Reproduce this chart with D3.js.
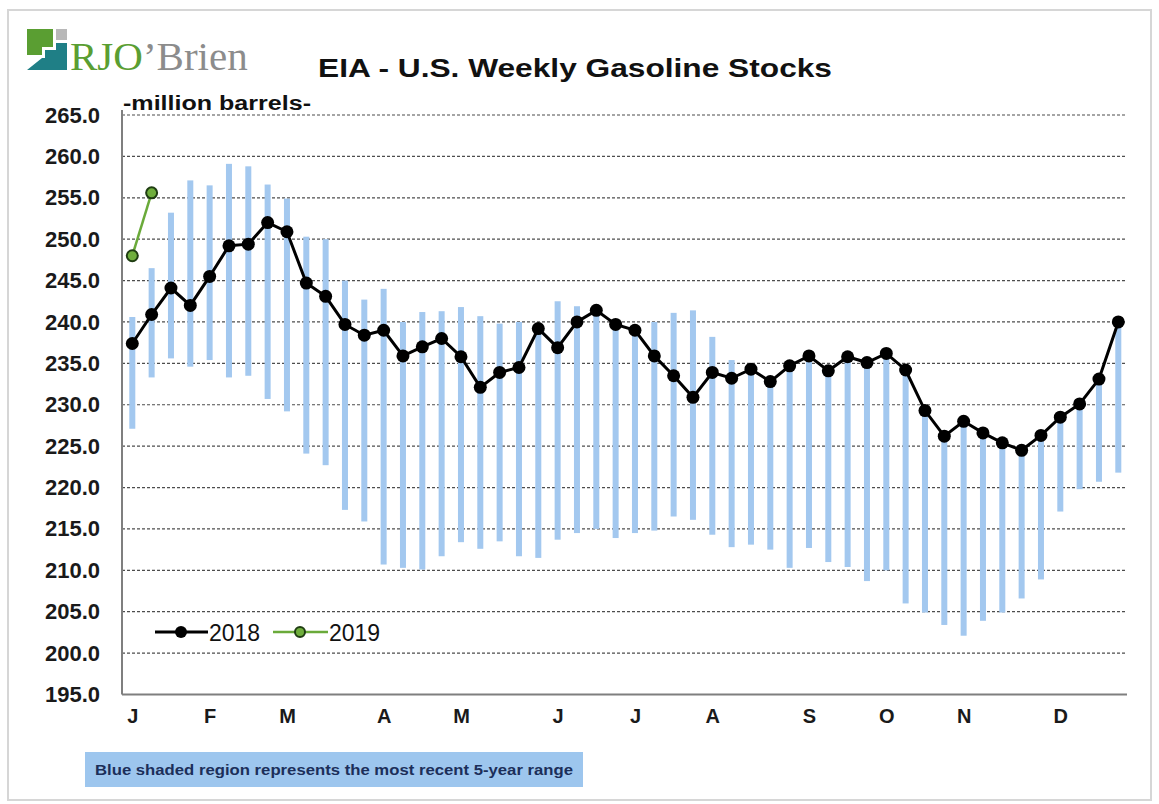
<!DOCTYPE html>
<html>
<head>
<meta charset="utf-8">
<script src="https://cdn.jsdelivr.net/npm/d3@7"></script>
<style>
  body { margin: 0; background: #fff; }
  text { font-family: "Liberation Sans", Arial, sans-serif; }
</style>
</head>
<body>
<div id="chart"></div>
<script>
/* DATA */
const monthLabels = ["J", "F", "M", "A", "M", "J", "J", "A", "S", "O", "N", "D"];
const monthWeeks = [0, 4, 8, 13, 17, 22, 26, 30, 35, 39, 43, 48];

// 2018 weekly stocks, million barrels
const stocks2018 = [
  237.4, 240.9, 244.1, 242.0, 245.5, 249.2, 249.4, 252.0, 250.9, 244.7,
  243.1, 239.7, 238.4, 239.0, 235.9, 237.0, 238.0, 235.8, 232.1, 233.9,
  234.5, 239.2, 236.9, 240.0, 241.4, 239.7, 239.0, 235.9, 233.5, 230.9,
  233.9, 233.2, 234.3, 232.8, 234.7, 235.9, 234.1, 235.8, 235.1, 236.2,
  234.2, 229.3, 226.2, 228.0, 226.6, 225.4, 224.5, 226.3, 228.5, 230.1,
  233.1, 240.0
];
const stocks2019 = [248.0, 255.6];

// 5-year range (top and bottom of each blue bar)
const rangeMax = [
  240.6, 246.5, 253.2, 257.1, 256.5, 259.1, 258.8, 256.6, 254.9, 250.3,
  250.0, 245.0, 242.7, 244.0, 240.0, 241.2, 241.3, 241.8, 240.7, 239.8,
  240.0, 239.4, 242.5, 241.9, 241.0, 239.6, 239.0, 240.0, 241.1, 241.4,
  238.2, 235.4, 233.8, 232.4, 234.4, 235.5, 233.8, 235.4, 234.8, 236.0,
  234.0, 229.0, 226.0, 227.9, 226.3, 225.1, 224.2, 226.0, 227.9, 229.6,
  232.5, 239.4
];
const rangeMin = [
  227.1, 233.3, 235.6, 234.6, 235.4, 233.3, 233.5, 230.7, 229.2, 224.1,
  222.7, 217.3, 215.9, 210.7, 210.3, 210.1, 211.7, 213.4, 212.6, 213.5,
  211.7, 211.5, 213.7, 214.5, 215.0, 213.9, 214.5, 214.8, 216.5, 216.1,
  214.3, 212.8, 213.1, 212.5, 210.3, 212.7, 211.0, 210.4, 208.7, 210.0,
  206.0, 204.9, 203.4, 202.1, 203.9, 204.9, 206.6, 208.9, 217.1, 219.8,
  220.7, 221.8
];

const yTicks = d3.range(195, 266, 5);

/* LAYOUT */
const width = 1159,
  height = 804,
  plot = { left: 122, right: 1127, top: 115, bottom: 694.5 };

const svg = d3.select("#chart")
  .append("svg")
  .attr("width", width)
  .attr("height", height);

// outer frame
svg.append("rect")
  .attr("x", 8).attr("y", 10)
  .attr("width", 1143).attr("height", 790)
  .attr("fill", "#fff")
  .attr("stroke", "#d6d6d6")
  .attr("stroke-width", 2);

/* SCALES */
const xScale = d3.scaleLinear()
  .domain([0, stocks2018.length - 1])
  .range([132.3, 1118.3]);

const yScale = d3.scaleLinear()
  .domain([195, 265])
  .range([plot.bottom, plot.top]);

/* GRID */
svg.append("g")
  .attr("class", "grid")
  .selectAll("line")
  .data(yTicks.filter(d => d > 195))
  .join("line")
  .attr("x1", plot.left)
  .attr("x2", plot.right)
  .attr("y1", d => yScale(d))
  .attr("y2", d => yScale(d))
  .attr("stroke", "#4d4d4d")
  .attr("stroke-width", 1.2)
  .attr("stroke-dasharray", "3,2");

/* RANGE BARS */
svg.append("g")
  .selectAll("rect")
  .data(rangeMax.map((d, i) => ({ i, hi: d, lo: rangeMin[i] })))
  .join("rect")
  .attr("x", d => xScale(d.i) - 3)
  .attr("width", 6)
  .attr("y", d => yScale(d.hi))
  .attr("height", d => yScale(d.lo) - yScale(d.hi))
  .attr("fill", "#a3c8ef");

/* AXES */
const yAxis = d3.axisLeft(yScale)
  .tickValues(yTicks)
  .tickSize(0)
  .tickPadding(22)
  .tickFormat(d3.format(".1f"));

svg.append("g")
  .attr("transform", `translate(${plot.left},0)`)
  .call(yAxis)
  .call(g => g.select(".domain").remove())
  .call(g => g.selectAll("text")
    .attr("font-size", 22)
    .attr("font-weight", "bold")
    .attr("fill", "#1a1a1a"));

const xAxis = d3.axisBottom(xScale)
  .tickValues(monthWeeks)
  .tickSize(0)
  .tickPadding(14)
  .tickFormat((d, i) => monthLabels[i]);

svg.append("g")
  .attr("transform", `translate(0,${plot.bottom})`)
  .call(xAxis)
  .call(g => g.select(".domain").remove())
  .call(g => g.selectAll("text")
    .attr("font-size", 20)
    .attr("font-weight", "bold")
    .attr("fill", "#1a1a1a"));

// axis lines
svg.append("line")
  .attr("x1", plot.left).attr("x2", plot.left)
  .attr("y1", plot.top - 5).attr("y2", plot.bottom)
  .attr("stroke", "#7f7f7f").attr("stroke-width", 2);
svg.append("line")
  .attr("x1", plot.left).attr("x2", plot.right)
  .attr("y1", plot.bottom).attr("y2", plot.bottom)
  .attr("stroke", "#7f7f7f").attr("stroke-width", 2);

/* LINES */
const line = d3.line()
  .x((d, i) => xScale(i))
  .y(d => yScale(d));

svg.append("path")
  .datum(stocks2018)
  .attr("d", line)
  .attr("fill", "none")
  .attr("stroke", "#000")
  .attr("stroke-width", 3);

svg.append("g")
  .selectAll("circle")
  .data(stocks2018)
  .join("circle")
  .attr("cx", (d, i) => xScale(i))
  .attr("cy", d => yScale(d))
  .attr("r", 6.5)
  .attr("fill", "#000");

svg.append("path")
  .datum(stocks2019)
  .attr("d", line)
  .attr("fill", "none")
  .attr("stroke", "#6aaa3a")
  .attr("stroke-width", 2.5);

svg.append("g")
  .selectAll("circle")
  .data(stocks2019)
  .join("circle")
  .attr("cx", (d, i) => xScale(i))
  .attr("cy", d => yScale(d))
  .attr("r", 5.5)
  .attr("fill", "#6fae3c")
  .attr("stroke", "#1f3d12")
  .attr("stroke-width", 2);

/* LEGEND */
const legend = svg.append("g").attr("transform", "translate(0,632)");
legend.append("line")
  .attr("x1", 155).attr("x2", 208).attr("y1", 0).attr("y2", 0)
  .attr("stroke", "#000").attr("stroke-width", 3);
legend.append("circle").attr("cx", 181).attr("cy", 0).attr("r", 6).attr("fill", "#000");
legend.append("text")
  .attr("x", 209).attr("y", 8.5)
  .attr("font-size", 23)
  .attr("fill", "#111")
  .text("2018");
legend.append("line")
  .attr("x1", 273).attr("x2", 328).attr("y1", 0).attr("y2", 0)
  .attr("stroke", "#6aaa3a").attr("stroke-width", 2.5);
legend.append("circle").attr("cx", 300).attr("cy", 0).attr("r", 5)
  .attr("fill", "#6fae3c").attr("stroke", "#1f3d12").attr("stroke-width", 2);
legend.append("text")
  .attr("x", 329).attr("y", 8.5)
  .attr("font-size", 23)
  .attr("fill", "#111")
  .text("2019");

/* TITLES */
svg.append("text")
  .attr("x", 575).attr("y", 77)
  .attr("text-anchor", "middle")
  .attr("font-size", 26)
  .attr("font-weight", "bold")
  .attr("fill", "#111")
  .attr("textLength", 514)
  .attr("lengthAdjust", "spacingAndGlyphs")
  .text("EIA - U.S. Weekly Gasoline Stocks");

svg.append("text")
  .attr("x", 123).attr("y", 110)
  .attr("font-size", 20)
  .attr("font-weight", "bold")
  .attr("fill", "#111")
  .attr("textLength", 188)
  .attr("lengthAdjust", "spacingAndGlyphs")
  .text("-million barrels-");

/* LOGO */
const logo = svg.append("g");
logo.append("polygon")
  .attr("points", "27,29 53,29 53,47 42,47 42,55 27,55")
  .attr("fill", "#5a9e32");
logo.append("rect")
  .attr("x", 56).attr("y", 29).attr("width", 11).attr("height", 11)
  .attr("fill", "#b8b8b8");
logo.append("polygon")
  .attr("points", "27,70 42,58 45,58 45,50 56,50 56,43 67,43 67,70")
  .attr("fill", "#1f7f86");
const logoText = logo.append("text")
  .attr("x", 70).attr("y", 70)
  .style("font-family", "'Liberation Serif', 'Times New Roman', serif")
  .attr("font-size", 41);
logoText.append("tspan").attr("fill", "#5a9e32").text("RJO");
logoText.append("tspan").attr("fill", "#8c8c8c").text("\u2019Brien");

/* CAPTION */
svg.append("rect")
  .attr("x", 85).attr("y", 752)
  .attr("width", 498).attr("height", 35)
  .attr("fill", "#9dc6ee");
svg.append("text")
  .attr("x", 95).attr("y", 775)
  .attr("font-size", 15)
  .attr("font-weight", "bold")
  .attr("fill", "#1c2f5a")
  .attr("textLength", 478)
  .attr("lengthAdjust", "spacingAndGlyphs")
  .text("Blue shaded region represents the most recent 5-year range");
</script>
</body>
</html>
